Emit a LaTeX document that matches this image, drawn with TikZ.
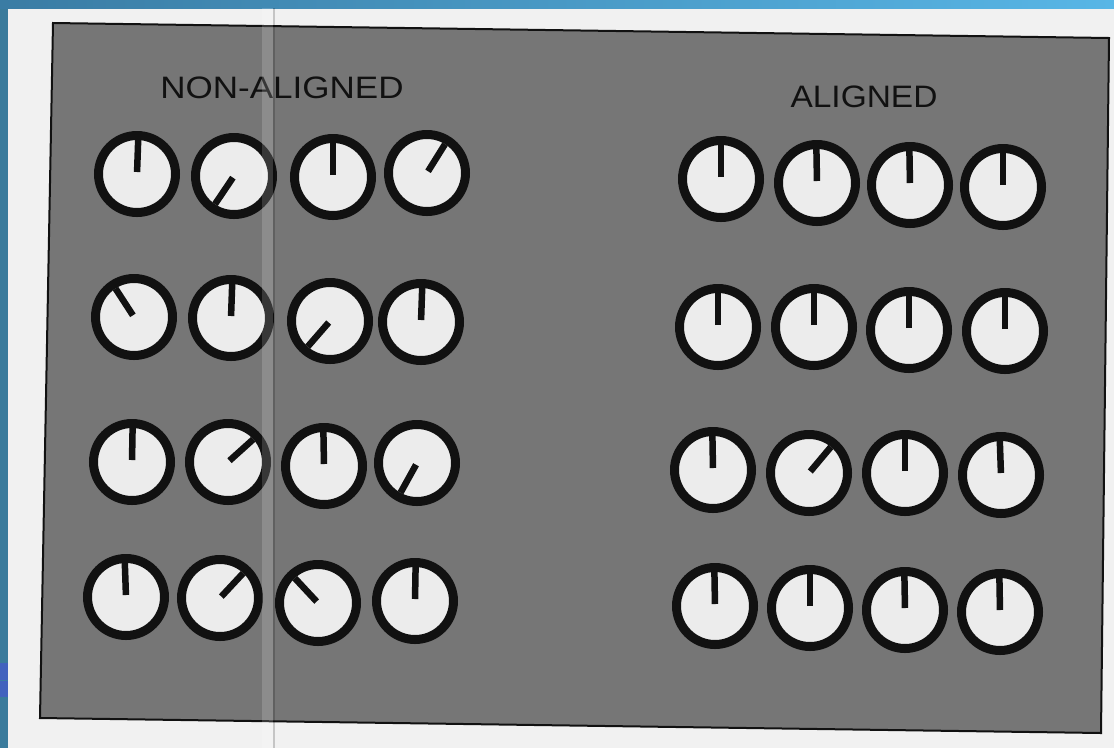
\documentclass[tikz,border=0pt]{standalone}
\usepackage{fontspec}
\setmainfont{Liberation Sans}
\usepackage{graphicx}
\definecolor{page}{HTML}{F1F1F1}
\definecolor{panelgray}{HTML}{767676}
\definecolor{face}{HTML}{ECECEC}
\definecolor{ink}{HTML}{111111}
\definecolor{blueL}{HTML}{3A7B9C}
\definecolor{blueT1}{HTML}{3A7CA4}
\definecolor{blueT2}{HTML}{58B6E6}
\definecolor{blueBox}{HTML}{4262BE}
\tikzset{
  ring/.style={draw=ink, line width=9pt, fill=face},
  needle/.style={draw=ink, line width=6.5pt, line cap=butt},
  panel/.style={draw=ink, line width=2pt, fill=panelgray},
  title/.style={text=ink, font=\fontsize{31}{36}\selectfont, inner sep=0pt},
  pics/gauge/.style={code={
    \draw[ring] (0,0) circle[radius=38.5];
    \draw[needle] (-#1:2) -- (-#1:34);
  }}
}
\begin{document}
\begin{tikzpicture}[x=1pt, y=-1pt]
\useasboundingbox (0,0) rectangle (1114,748);
% page and scanner background
\fill[page] (0,0) rectangle (1114,748);
\fill[blueL] (0,0) rectangle (8,748);
\shade[left color=blueT1, right color=blueT2] (0,0) rectangle (1114,8);
\fill[blueBox] (0,663) rectangle (8,697);
\draw[blueT1, line width=0.8pt] (0,680) -- (8,680);
% grey panel
\draw[panel] (53,23) -- (1109,38) -- (1101,733) -- (40,718) -- cycle;
% titles
\node[title] (nonaligned) at (282,88) {\scalebox{1.13}[1]{NON-ALIGNED}};
\node[title] (aligned) at (864,97) {\scalebox{1.08}[1]{ALIGNED}};
% non-aligned gauges
\foreach \x/\y/\a [count=\i] in {
  137/174/88, 234/176/236, 333/177/90, 427/173/58,
  134/317/123, 231/318/88, 330/321/229, 421/322/88,
  132/462/89, 228/462/42, 324/466/91, 417/463/241,
  126/597/92, 220/598/47, 318/603/133, 415/601/89}
  \pic (n\i) at (\x,\y) {gauge=\a};
% aligned gauges
\foreach \x/\y/\a [count=\i] in {
  721/179/90, 817/183/91, 910/185/91, 1003/187/90,
  718/327/90, 814/327/90, 909/330/90, 1005/331/90,
  713/470/91, 809/473/50, 905/473/90, 1001/475/92,
  715/606/91, 810/608/90, 905/610/91, 1000/612/91}
  \pic (a\i) at (\x,\y) {gauge=\a};
% fold of the page
\fill[white, opacity=0.16] (262,8) rectangle (273,748);
\draw[black, opacity=0.18, line width=1.2pt] (274,8) -- (274,748);
\end{tikzpicture}
\end{document}
